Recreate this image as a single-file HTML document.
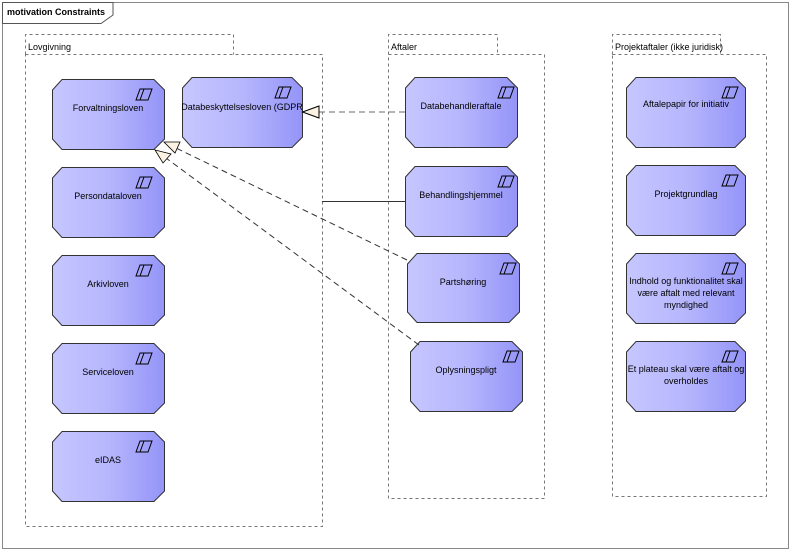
<!DOCTYPE html>
<html><head><meta charset="utf-8"><style>
html,body{margin:0;padding:0;background:#fff;}
svg{display:block;font-family:"Liberation Sans",sans-serif;}
text{font-size:9px;fill:#000;}
</style></head><body>
<svg width="792" height="553" viewBox="0 0 792 553" xmlns="http://www.w3.org/2000/svg">
<defs>
<linearGradient id="g" x1="0" y1="0" x2="1" y2="0">
<stop offset="0" stop-color="#c6c6ff"/><stop offset="0.5" stop-color="#b6b6fd"/><stop offset="1" stop-color="#9494f8"/>
</linearGradient>
<path id="ic" d="M4 0 h12 l-4 11 h-12 z M8 0 l-4 11" fill="none" stroke="#000" stroke-width="1"/>
</defs>
<rect x="2.5" y="2.5" width="786" height="546" fill="#fff" stroke="#888" stroke-width="1"/>
<path d="M2.5 2.5 H113 V15 L101 23.5 H2.5 Z" fill="#fff" stroke="#555"/>
<text x="7" y="15" style="font-weight:bold;font-size:9px">motivation Constraints</text>

<g fill="none" stroke="#777" stroke-dasharray="3,3">
<path d="M25.5 54.5 V34.5 H233.5 V54.5"/>
<rect x="25.5" y="54.5" width="297" height="472"/>
<path d="M388.5 54.5 V34.5 H497.5 V54.5"/>
<rect x="388.5" y="54.5" width="156" height="444"/>
<path d="M612.5 54.5 V34.5 H720.5 V54.5"/>
<rect x="612.5" y="54.5" width="154" height="442"/>
</g>
<text x="28" y="50" fill="#333">Lovgivning</text>
<text x="391" y="50" fill="#333">Aftaler</text>
<text x="615" y="50" fill="#333">Projektaftaler (ikke juridisk)</text>

<g stroke="#333" stroke-width="1" fill="url(#g)">
<path d="M62 79.5 H154 L164.5 90 V139 L154 149.5 H62 L52.5 139 V90 Z"/>
<path d="M192 77.5 H292 L302.5 88 V137 L292 147.5 H192 L182.5 137 V88 Z"/>
<path d="M62 167.5 H154 L164.5 178 V227 L154 237.5 H62 L52.5 227 V178 Z"/>
<path d="M62 255.5 H154 L164.5 266 V315 L154 325.5 H62 L52.5 315 V266 Z"/>
<path d="M62 343.5 H154 L164.5 354 V403 L154 413.5 H62 L52.5 403 V354 Z"/>
<path d="M62 431.5 H154 L164.5 442 V491 L154 501.5 H62 L52.5 491 V442 Z"/>
<path d="M415 77.5 H507 L517.5 88 V137 L507 147.5 H415 L405.5 137 V88 Z"/>
<path d="M415 166.5 H507 L517.5 177 V226 L507 236.5 H415 L405.5 226 V177 Z"/>
<path d="M417 253.5 H509 L519.5 264 V312 L509 322.5 H417 L407.5 312 V264 Z"/>
<path d="M420 341.5 H512 L522.5 352 V401 L512 411.5 H420 L410.5 401 V352 Z"/>
<path d="M636 77.5 H735 L745.5 88 V137 L735 147.5 H636 L626.5 137 V88 Z"/>
<path d="M636 165.5 H735 L745.5 176 V225 L735 235.5 H636 L626.5 225 V176 Z"/>
<path d="M636 253.5 H735 L745.5 264 V313 L735 323.5 H636 L626.5 313 V264 Z"/>
<path d="M636 341.5 H735 L745.5 352 V401 L735 411.5 H636 L626.5 401 V352 Z"/>
</g>
<use href="#ic" x="136" y="89"/>
<use href="#ic" x="275" y="87"/>
<use href="#ic" x="136" y="177"/>
<use href="#ic" x="136" y="265"/>
<use href="#ic" x="136" y="353"/>
<use href="#ic" x="136" y="441"/>
<use href="#ic" x="498" y="87"/>
<use href="#ic" x="498" y="176"/>
<use href="#ic" x="500" y="263"/>
<use href="#ic" x="503" y="351"/>
<use href="#ic" x="722" y="87"/>
<use href="#ic" x="722" y="175"/>
<use href="#ic" x="722" y="263"/>
<use href="#ic" x="722" y="351"/>
<g text-anchor="middle">
<text x="108" y="111">Forvaltningsloven</text>
<text x="242" y="110">Databeskyttelsesloven (GDPR</text>
<text x="108" y="199">Persondataloven</text>
<text x="108" y="287">Arkivloven</text>
<text x="108" y="375">Serviceloven</text>
<text x="108" y="463">eIDAS</text>
<text x="461" y="109">Databehandleraftale</text>
<text x="461" y="198">Behandlingshjemmel</text>
<text x="463" y="285">Partshøring</text>
<text x="466" y="373">Oplysningspligt</text>
<text x="686" y="107">Aftalepapir for initiativ</text>
<text x="686" y="197">Projektgrundlag</text>
<text x="686" y="284">Indhold og funktionalitet skal</text>
<text x="686" y="296">være aftalt med relevant</text>
<text x="686" y="308">myndighed</text>
<text x="686" y="372">Et plateau skal være aftalt og</text>
<text x="686" y="384">overholdes</text>
</g>

<line x1="405" y1="112" x2="319" y2="112" stroke="#888" stroke-width="1.2" stroke-dasharray="6,4"/>
<path d="M302.5 112 L319 106 V118 Z" fill="#fcf2e3" stroke="#000"/>
<line x1="322" y1="201.5" x2="405" y2="201.5" stroke="#333"/>
<line x1="407" y1="260" x2="176" y2="148" stroke="#333" stroke-dasharray="6,4"/>
<path d="M164 142 L180 142 L175 153 Z" fill="#fcf2e3" stroke="#000" stroke-width="0.8"/>
<line x1="419" y1="345" x2="166" y2="158" stroke="#333" stroke-dasharray="6,4"/>
<path d="M155 150 L171 154 L163 163 Z" fill="#fcf2e3" stroke="#000" stroke-width="0.8"/>
</svg>
</body></html>
